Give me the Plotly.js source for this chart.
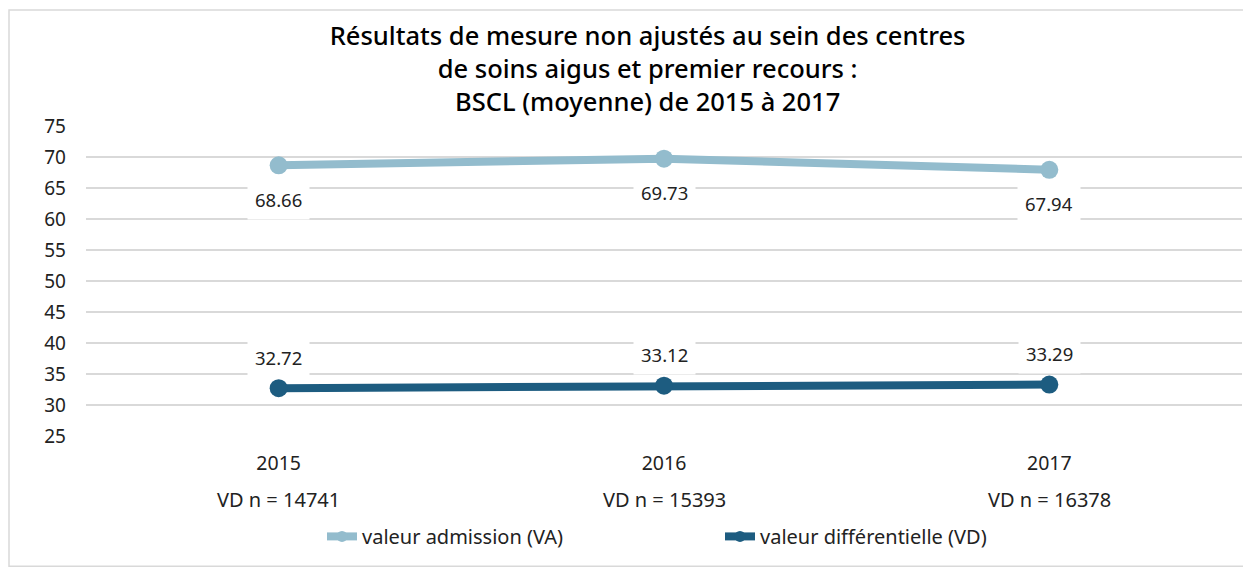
<!DOCTYPE html>
<html><head><meta charset="utf-8">
<script src="https://cdn.plot.ly/plotly-3.0.1.min.js"></script>
<style>html,body{margin:0;padding:0;background:#fff;}#chart{width:1243px;height:571px;}</style>
</head><body><div id="chart"></div>
<script>
const years = ['2015','2016','2017'];
const vaValues = [68.66, 69.73, 67.94];
const vdValues = [32.72, 33.12, 33.29];
const nLabels = ['VD n = 14741','VD n = 15393','VD n = 16378'];
const seriesNames = ['valeur admission (VA)','valeur différentielle (VD)'];
const yTicks = [25,30,35,40,45,50,55,60,65,70,75];

const FONT = 'Noto Sans, Open Sans, sans-serif';
const cVA = '#93bccd', cVD = '#1d5c80';
const colors = [cVA, cVD];
const seriesValues = [vaValues, vdValues];

const traces = [];
seriesValues.forEach((vals, k)=>{
  traces.push({x: years, y: vals, name: seriesNames[k], type:'scatter', mode:'lines+markers',
    line:{color:colors[k], width:8}, marker:{color:colors[k], size:18}, showlegend:false});
});
// legend-only entries (smaller marker, like the reference legend)
seriesValues.forEach((vals, k)=>{
  traces.push({x:[null], y:[null], name: seriesNames[k], type:'scatter', mode:'lines+markers',
    line:{color:colors[k], width:8}, marker:{color:colors[k], size:11}, showlegend:true});
});

const annotations = [];
years.forEach((yr,i)=>{
  annotations.push({x:i, y:vaValues[i], xref:'x', yref:'y', text:vaValues[i].toFixed(2),
    showarrow:false, yshift:-34, bgcolor:'#ffffff', borderpad:7,
    font:{family:FONT, size:18.5, color:'#222'}});
  annotations.push({x:i, y:vdValues[i], xref:'x', yref:'y', text:vdValues[i].toFixed(2),
    showarrow:false, yshift:31, bgcolor:'#ffffff', borderpad:7,
    font:{family:FONT, size:18.5, color:'#222'}});
  annotations.push({x:i, y:-0.206, xref:'x', yref:'paper', yanchor:'middle', text:nLabels[i],
    showarrow:false, font:{family:FONT, size:20, color:'#222'}});
});

const layout = {
  width:1243, height:571,
  margin:{l:86, r:1, t:126, b:135},
  paper_bgcolor:'#fff', plot_bgcolor:'#fff',
  font:{family:FONT, size:19, color:'#222'},
  title:{text:'Résultats de mesure non ajustés au sein des centres<br>de soins aigus et premier recours :<br>BSCL (moyenne) de 2015 à 2017',
    font:{family:FONT, size:25.5, color:'#000', weight:500},
    x:0.521, xanchor:'center', y:0.922, yanchor:'middle'},
  xaxis:{type:'category', range:[-0.5,2.5], showgrid:false, zeroline:false, showline:false,
    ticks:'', tickfont:{family:FONT, size:19.5, color:'#222'}, ticklabelstandoff:13, fixedrange:true},
  yaxis:{range:[25,75], tickvals:yTicks, showgrid:true, gridcolor:'#d9d9d9', gridwidth:1.5,
    zeroline:false, showline:false, ticks:'', tickfont:{family:FONT, size:19, color:'#222'},
    ticklabelstandoff:19, fixedrange:true},
  legend:{orientation:'h', x:(322-86)/1156, xanchor:'left', y:-0.261, yanchor:'top',
    entrywidth:353, entrywidthmode:'pixels',
    font:{family:FONT, size:20, color:'#222'}},
  showlegend:true,
  annotations: annotations,
  shapes:[{type:'rect', xref:'paper', yref:'paper', x0:-0.0666, x1:1.01, y0:-0.42, y1:1.374,
    line:{color:'#d9d9d9', width:1.5}, fillcolor:'rgba(0,0,0,0)', layer:'below'}]
};

Plotly.newPlot('chart', traces, layout, {displayModeBar:false});
</script></body></html>
